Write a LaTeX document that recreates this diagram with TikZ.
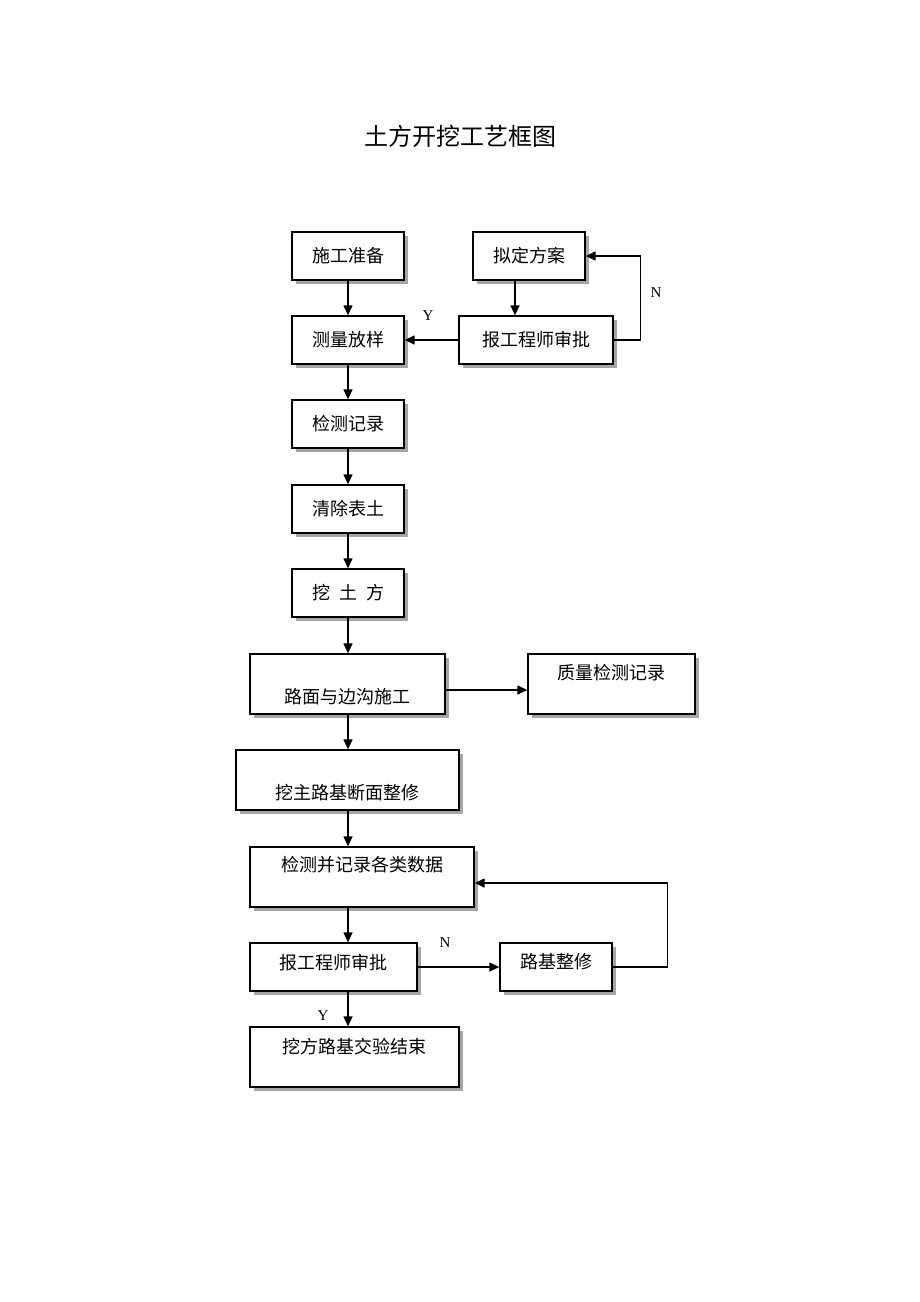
\documentclass[tikz,border=0pt]{standalone}
\usepackage{fontspec}
\setmainfont{Liberation Serif}
\newfontfamily\cjk{Noto Sans CJK SC}
\usepackage{tikz}
\usetikzlibrary{arrows.meta}
\usetikzlibrary{shadows}

\tikzset{
  box/.style={draw, fill=white, line width=1.3pt, inner sep=0pt,
    minimum width=112, minimum height=48,
    font=\cjk\fontsize{18}{22}\selectfont,
    drop shadow={shadow xshift=4pt, shadow yshift=-4pt, fill=gray!70, opacity=1}},
  arr/.style={-{Triangle[length=10pt,width=9pt]}, line width=1.3pt},
  yn/.style={font=\fontsize{15}{18}\selectfont}
}

\begin{document}
\begin{tikzpicture}[x=1pt,y=-1pt]
		\useasboundingbox (0,0) rectangle (920,1302);
		\node[font=\cjk\fontsize{24}{28}\selectfont] (title) at (460,136) {土方开挖工艺框图};
		\node[box] (prep) at (348,256) {施工准备};
		\node[box] (plan) at (529,256) {拟定方案};
		\node[box] (survey) at (348,340) {测量放样};
		\node[box, minimum width=154] (check1) at (536,340) {报工程师审批};
		\node[box] (record) at (348,424) {检测记录};
		\node[box] (clear) at (348,509) {清除表土};
		\node[box] (dig) at (348,593) {挖\hspace{0.5em}土\hspace{0.5em}方};
		\node[box, minimum width=195, text height=49, text depth=11] (road) at (347.5,684) {路面与边沟施工};
		\node[box, minimum width=167, text height=25, text depth=35] (quality) at (611.5,684) {质量检测记录};
		\node[box, minimum width=223, text height=49, text depth=11] (trim) at (347.5,780) {挖主路基断面整修};
		\node[box, minimum width=224, text height=24, text depth=36] (data) at (362,877) {检测并记录各类数据};
		\node[box, minimum width=167, text height=26, text depth=22] (check2) at (333.5,967) {报工程师审批};
		\node[box, text height=25, text depth=23] (repair) at (556,967) {路基整修};
		\node[box, minimum width=209, text height=26, text depth=34] (finish) at (354.5,1057) {挖方路基交验结束};
		% upper part
		\draw[arr] (prep) -- (survey);
		\draw[arr] ([xshift=-14pt]plan.south) -- ([xshift=-14pt]plan.south |- check1.north);
		\draw[arr] (check1) -- (survey);
		\draw[arr] (check1.east) -- ++(27,0) |- (plan.east);
		\node[yn] (y1) at (428,316) {Y};
		\node[yn] (n1) at (656,293) {N};
		% main line
		\draw[arr] (survey) -- (record);
		\draw[arr] (record) -- (clear);
		\draw[arr] (clear) -- (dig);
		\draw[arr] (dig) -- (dig |- road.north);
		\draw[arr] (dig |- road.south) -- (dig |- trim.north);
		\draw[arr] ([yshift=-6pt]road.east) -- ([yshift=-6pt]quality.west);
		\draw[arr] (dig |- trim.south) -- (dig |- data.north);
		\draw[arr] (dig |- data.south) -- (dig |- check2.north);
		% lower loop
		\draw[arr] (check2) -- (repair);
		\draw[arr] (repair.east) -- ++(55,0) |- ([yshift=-6pt]data.east);
		\draw[arr] (dig |- check2.south) -- (dig |- finish.north);
		\node[yn] (n2) at (445,943) {N};
		\node[yn] (y2) at (323,1016) {Y};
\end{tikzpicture}
\end{document}
